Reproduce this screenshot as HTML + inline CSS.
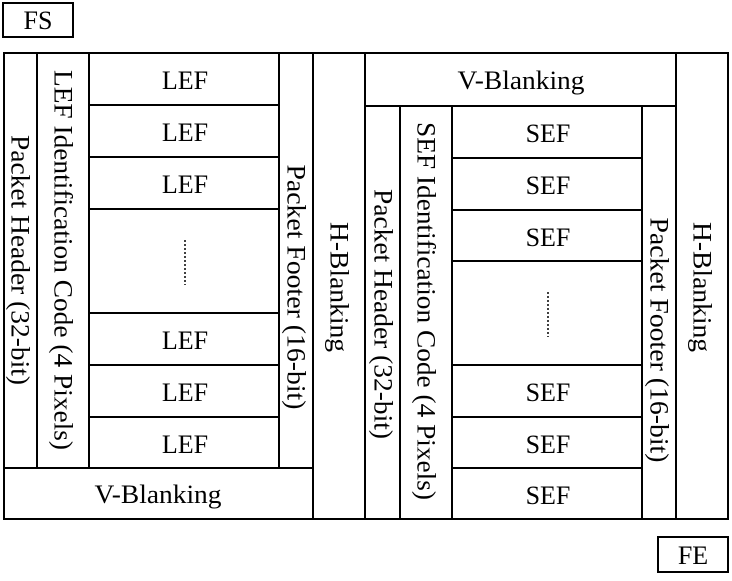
<!DOCTYPE html>
<html><head><style>html,body{margin:0;padding:0;background:#fff}svg text{font-family:"Liberation Serif","Times New Roman",serif;font-size:26px}</style></head><body>
<svg width="732" height="576" xmlns="http://www.w3.org/2000/svg" fill="#000">
<g stroke="#000" stroke-width="2" fill="none">
<rect x="3" y="3" width="70" height="34"/>
<rect x="658" y="537" width="70" height="35"/>
<rect x="4" y="53" width="724" height="466"/>
<line x1="37" y1="53" x2="37" y2="468"/>
<line x1="89" y1="53" x2="89" y2="468"/>
<line x1="279" y1="53" x2="279" y2="468"/>
<line x1="313" y1="53" x2="313" y2="519"/>
<line x1="365" y1="53" x2="365" y2="519"/>
<line x1="4" y1="468" x2="313" y2="468"/>
<line x1="89" y1="105" x2="279" y2="105"/>
<line x1="89" y1="157" x2="279" y2="157"/>
<line x1="89" y1="209" x2="279" y2="209"/>
<line x1="89" y1="313" x2="279" y2="313"/>
<line x1="89" y1="365" x2="279" y2="365"/>
<line x1="89" y1="417" x2="279" y2="417"/>
<line x1="365" y1="106" x2="676" y2="106"/>
<line x1="676" y1="53" x2="676" y2="519"/>
<line x1="400" y1="106" x2="400" y2="519"/>
<line x1="452" y1="106" x2="452" y2="519"/>
<line x1="642" y1="106" x2="642" y2="519"/>
<line x1="452" y1="158" x2="642" y2="158"/>
<line x1="452" y1="210" x2="642" y2="210"/>
<line x1="452" y1="261" x2="642" y2="261"/>
<line x1="452" y1="365" x2="642" y2="365"/>
<line x1="452" y1="417" x2="642" y2="417"/>
<line x1="452" y1="468" x2="642" y2="468"/>
<line x1="185" y1="240" x2="185" y2="285" stroke-width="1.5" stroke-dasharray="2,2"/>
<line x1="548" y1="292" x2="548" y2="337" stroke-width="1.5" stroke-dasharray="2,2"/>
</g>
<g text-anchor="middle">
<text x="38" y="29">FS</text>
<text x="693" y="564">FE</text>
<text x="185" y="89">LEF</text>
<text x="185" y="141">LEF</text>
<text x="185" y="193">LEF</text>
<text x="185" y="349">LEF</text>
<text x="185" y="401">LEF</text>
<text x="185" y="453">LEF</text>
<text x="158" y="503" textLength="127" lengthAdjust="spacingAndGlyphs">V-Blanking</text>
<text x="521" y="89" textLength="127" lengthAdjust="spacingAndGlyphs">V-Blanking</text>
<text x="548" y="142">SEF</text>
<text x="548" y="194">SEF</text>
<text x="548" y="246">SEF</text>
<text x="548" y="401">SEF</text>
<text x="548" y="453">SEF</text>
<text x="548" y="504">SEF</text>
</g>
<g text-anchor="middle" dominant-baseline="central">
<text transform="translate(20,260) rotate(90)" textLength="250" lengthAdjust="spacingAndGlyphs">Packet Header (32-bit)</text>
<text transform="translate(63,260) rotate(90)" textLength="380" lengthAdjust="spacingAndGlyphs">LEF Identification Code (4 Pixels)</text>
<text transform="translate(296,287) rotate(90)" textLength="245" lengthAdjust="spacingAndGlyphs">Packet Footer (16-bit)</text>
<text transform="translate(339,287) rotate(90)" textLength="130" lengthAdjust="spacingAndGlyphs">H-Blanking</text>
<text transform="translate(383,314) rotate(90)" textLength="250" lengthAdjust="spacingAndGlyphs">Packet Header (32-bit)</text>
<text transform="translate(426,311) rotate(90)" textLength="378" lengthAdjust="spacingAndGlyphs">SEF Identification Code (4 Pixels)</text>
<text transform="translate(659,340) rotate(90)" textLength="245" lengthAdjust="spacingAndGlyphs">Packet Footer (16-bit)</text>
<text transform="translate(702,287) rotate(90)" textLength="130" lengthAdjust="spacingAndGlyphs">H-Blanking</text>
</g>
</svg>
</body></html>
